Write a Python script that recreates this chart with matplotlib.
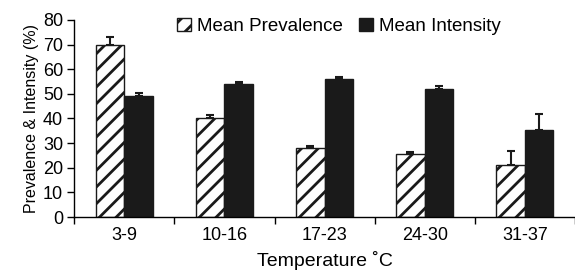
import numpy as np
import matplotlib.pyplot as plt

plt.rcParams['font.family'] = ['Liberation Sans', 'DejaVu Sans']
plt.rcParams['hatch.linewidth'] = 2.0

categories = ['3-9', '10-16', '17-23', '24-30', '31-37']
prevalence = [70, 40, 28, 25.5, 21.3]
prevalence_err = [3, 1.5, 1, 0.8, 5.5]
intensity = [49, 54, 56, 52, 35.3]
intensity_err = [1.3, 1, 1, 1.2, 6.4]

fig = plt.figure(figsize=(5.75, 2.73), dpi=100)
ax = fig.add_axes([0.129, 0.205, 0.871, 0.722])

x = np.arange(len(categories))
w = 0.285
ekw = dict(ecolor='#1a1a1a', elinewidth=1.5, capsize=3, capthick=1.5)
ax.bar(x - w / 2, prevalence, w, color='white', edgecolor='#1a1a1a', hatch='//',
       linewidth=1.0, label='Mean Prevalence',
       yerr=[np.zeros(5), prevalence_err], error_kw=ekw)
ax.bar(x + w / 2, intensity, w, color='#1a1a1a', edgecolor='#1a1a1a',
       linewidth=1.0, label='Mean Intensity',
       yerr=[np.zeros(5), intensity_err], error_kw=ekw)

ax.set_xlim(-0.5, 4.5)
ax.set_ylim(0, 80)
ax.set_yticks(range(0, 81, 10))
ax.set_xticks(np.arange(-0.5, 4.6, 1.0))
ax.set_xticklabels([])
ax.set_xticks(x, minor=True)
ax.set_xticklabels(categories, minor=True)
ax.tick_params(axis='x', which='minor', length=0, pad=7, labelsize=13)
ax.tick_params(axis='x', which='major', length=5, width=1)
ax.tick_params(axis='y', length=5, width=1, labelsize=13, pad=3)
for s in ['top', 'right']:
    ax.spines[s].set_visible(False)
ax.spines['left'].set_linewidth(1)
ax.spines['bottom'].set_linewidth(1)

ax.set_ylabel('Prevalence & Intensity (%)', fontsize=11.5, labelpad=3)
ax.set_xlabel('Temperature ˚C', fontsize=14, labelpad=5)

ax.legend(loc='upper left', bbox_to_anchor=(0.19, 1.05), ncol=2, frameon=False,
          fontsize=13.5, handlelength=0.75, handleheight=0.75, handletextpad=0.3,
          columnspacing=0.9, borderaxespad=0)

fig.savefig('out.png', dpi=100)
